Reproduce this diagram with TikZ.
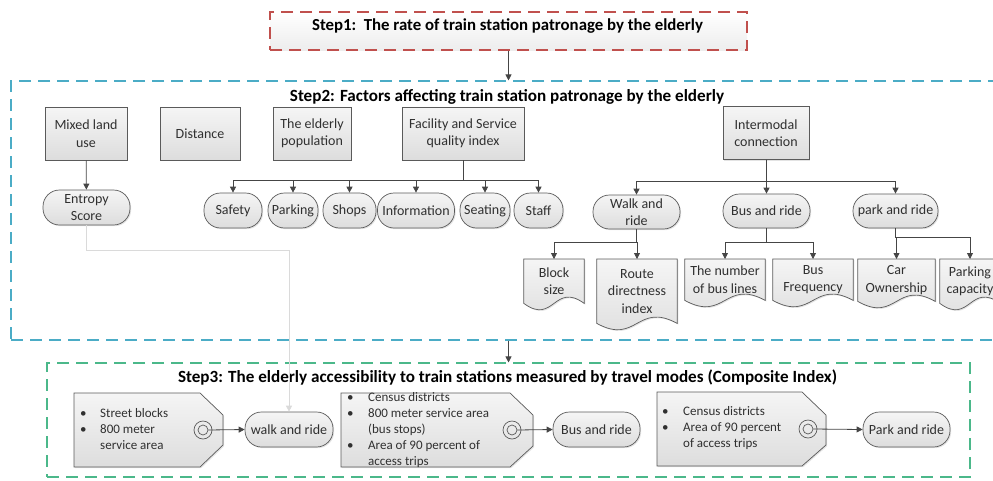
\documentclass[tikz,border=0pt]{standalone}
\usepackage{fontspec}
\setmainfont{Carlito}
\usetikzlibrary{arrows.meta,calc,shadows}
\pgfdeclarelayer{background}
\pgfsetlayers{background,main}
\definecolor{edgegray}{HTML}{5A5A5A}
\definecolor{conngray}{HTML}{454545}
\definecolor{txtgray}{HTML}{303030}
\definecolor{stepred}{HTML}{C0504D}
\definecolor{stepblue}{HTML}{4BACC6}
\definecolor{stepgreen}{HTML}{4BB88A}
\definecolor{fillA}{HTML}{F5F5F5}
\definecolor{fillB}{HTML}{DDDDDD}
\definecolor{faint}{HTML}{DADADA}
\newcommand\bul[1][20pt]{\makebox[#1][l]{\textbullet}}
\newcommand\docoutline[1]{%
  \begin{pgfonlayer}{background}
  \path[docline] (#1.north west) -- (#1.north east) -- (#1.south east)
    .. controls ($(#1.south)+(0,-22)$) and ($(#1.south)+(0,22)$) .. (#1.south west) -- cycle;
  \end{pgfonlayer}}
\tikzset{
  softshadow/.style={drop shadow={shadow xshift=1.2pt, shadow yshift=-1.2pt, opacity=0.22}},
  shapebase/.style={draw=edgegray, line width=0.7pt, top color=fillA, bottom color=fillB,
    text=txtgray, font=\fontsize{14}{17.5}\selectfont, align=center, inner sep=1pt, softshadow},
  rectbox/.style={shapebase, rectangle, minimum height=53pt},
  pill/.style={shapebase, rectangle, rounded corners=16.5pt, minimum height=35pt},
  docnode/.style={rectangle, text=txtgray, font=\fontsize{14}{17.5}\selectfont, align=center,
    inner sep=1pt, anchor=north},
  docline/.style={draw=edgegray, line width=0.7pt, top color=fillA, bottom color=fillB, softshadow},
  conn/.style={draw=conngray, line width=0.8pt, -{Triangle[length=6pt,width=6pt]}},
  faintconn/.style={draw=faint, line width=0.8pt, -{Triangle[length=6pt,width=6pt]}},
  container/.style={rectangle, line width=1.1pt, dash pattern=on 12pt off 7pt},
  titletext/.style={font=\bfseries\fontsize{16.5}{20}\selectfont, text=black, inner sep=0pt},
  tagshape/.style={draw=edgegray, line width=0.7pt, top color=fillA, bottom color=fillB, softshadow},
  bullettext/.style={font=\fontsize{13}{16}\selectfont, text=txtgray, align=left, anchor=west, inner sep=0pt},
  ring/.style={circle, draw=edgegray, line width=0.7pt, inner sep=0pt},
}
\begin{document}
\begin{tikzpicture}[x=1pt,y=-1pt]
\useasboundingbox (0,0) rectangle (993,480);
\clip (0,0) rectangle (993,480);

% containers
\node[container, draw=stepred, top color=white, bottom color=gray!14, minimum width=477pt, minimum height=38pt] (s1) at (508.5,31) {};
\node[titletext, font=\bfseries\fontsize{16.8}{20}\selectfont] (t1) at (507.5,26.5) {Step1:\ \ The rate of train station patronage by the elderly};
\node[container, draw=stepblue, minimum width=992pt, minimum height=259pt] (s2) at (507,210.5) {};
\node[titletext, font=\bfseries\fontsize{17.1}{20}\selectfont] (t2) at (507,96.5) {Step2: Factors affecting train station patronage by the elderly};
\node[container, draw=stepgreen, minimum width=923pt, minimum height=114pt] (s3) at (508.5,420) {};
\node[titletext, font=\bfseries\fontsize{17.1}{21}\selectfont] (t3) at (507.5,377.5) {Step3: The elderly accessibility to train stations measured by travel modes (Composite Index)};

\draw[conn] (s1.south) -- (s1.south |- s2.north);
\draw[conn] (s3.north |- s2.south) -- (s3.north);

% step 2 top row
\node[rectbox, minimum width=82pt] (mixed) at (86,133.5) {Mixed land\\use};
\node[rectbox, minimum width=80pt] (dist) at (200,133.5) {Distance};
\node[rectbox, minimum width=78pt] (eld) at (312,133.5) {The elderly\\population};
\node[rectbox, minimum width=122pt] (fac) at (463,133.5) {Facility and Service\\quality index};
\node[rectbox, minimum width=86pt] (inter) at (766,133) {Intermodal\\connection};

% pills
\node[pill, minimum width=87pt] (entropy) at (86.5,207.5) {Entropy\\Score};
\node[pill, minimum width=58pt] (safety) at (233,210.5) {Safety};
\node[pill, minimum width=50pt] (parking) at (293,210.5) {Parking};
\node[pill, minimum width=53pt] (shops) at (349.5,210.5) {Shops};
\node[pill, minimum width=77pt] (info) at (416,210.5) {Information};
\node[pill, minimum width=50pt] (seating) at (485,210.5) {Seating};
\node[pill, minimum width=49pt] (staff) at (538.5,210.5) {Staff};
\node[pill, minimum width=87pt, minimum height=34pt] (walk) at (636.5,212) {Walk and\\ride};
\node[pill, minimum width=87pt, minimum height=34pt] (bus) at (766.5,211) {Bus and ride};
\node[pill, minimum width=85pt, minimum height=34pt] (park) at (895.5,211) {park and ride};

% documents
\node[docnode, minimum width=60pt, minimum height=44pt] (block) at (554,259) {Block\\size};
\node[docnode, minimum width=80pt, minimum height=64pt] (route) at (637,259) {Route\\directness\\index};
\node[docnode, minimum width=80pt, minimum height=41pt] (nbus) at (725,259) {The number\\of bus lines};
\node[docnode, minimum width=80pt, minimum height=41pt] (bfreq) at (813,259) {Bus\\Frequency};
\node[docnode, minimum width=77pt, minimum height=42pt] (car) at (896.5,259) {Car\\Ownership};
\node[docnode, minimum width=60pt, minimum height=44pt] (pcap) at (970,259) {Parking\\capacity};
\docoutline{block}\docoutline{route}\docoutline{nbus}\docoutline{bfreq}\docoutline{car}\docoutline{pcap}

% step 2 connectors
\draw[conn] (mixed) -- (entropy);
\foreach \n in {safety,parking,shops,info,seating,staff}
  \draw[conn] (fac.south) -- ++(0,20) -| (\n.north);
\foreach \n in {walk,bus,park}
  \draw[conn] (inter.south) -- ++(0,21.5) -| (\n.north);
\foreach \n in {block,route}
  \draw[conn] (walk.south) -- ++(0,13) -| (\n.north);
\foreach \n in {nbus,bfreq}
  \draw[conn] (bus.south) -- ++(0,14) -| (\n.north);
\foreach \n in {car,pcap}
  \draw[conn] (park.south) -- ++(0,9) -| (\n.north);

% step 3 tags
\path[tagshape] (74,393) -- (200,393) -- (223,415) -- (223,445) -- (200,467) -- (74,467) -- cycle;
\path[tagshape] (341,393) -- (510,393) -- (533,415) -- (533,446) -- (510,467) -- (341,467) -- cycle;
\path[tagshape] (657,392) -- (802,392) -- (826,415) -- (826,445) -- (802,466) -- (657,466) -- cycle;

\node[bullettext] (b1) at (80,429) {\bul Street blocks\\\bul 800 meter\\\hspace*{20pt}service area};
\node[bullettext] (b2) at (347,430) {\bul[21pt]Census districts\\\bul[21pt]800 meter service area\\\hspace*{21pt}(bus stops)\\\bul[21pt]Area of 90 percent of\\\hspace*{21pt}access trips};
\node[bullettext] (b3) at (662,428) {\bul[21pt]Census districts\\\bul[21pt]Area of 90 percent\\\hspace*{21pt}of access trips};

\node[ring, minimum size=18pt] (c1o) at (203,430) {};
\node[ring, minimum size=10pt] (c1) at (203,430) {};
\node[ring, minimum size=18pt] (c2o) at (512,430) {};
\node[ring, minimum size=10pt] (c2) at (512,430) {};
\node[ring, minimum size=18pt] (c3o) at (808,429) {};
\node[ring, minimum size=10pt] (c3) at (808,429) {};

\node[pill, minimum width=88pt] (walk3) at (289,429.5) {walk and ride};
\node[pill, minimum width=87pt] (bus3) at (596.5,429.5) {Bus and ride};
\node[pill, minimum width=87pt] (park3) at (906.5,429.5) {Park and ride};

\draw[conn] (c1.east) -- (walk3.west);
\draw[conn] (c2.east) -- (bus3.west);
\draw[conn] (c3.east) -- (park3.west);

\draw[faintconn] (entropy.south) -- ++(0,25) -| (walk3.north);
\end{tikzpicture}
\end{document}
